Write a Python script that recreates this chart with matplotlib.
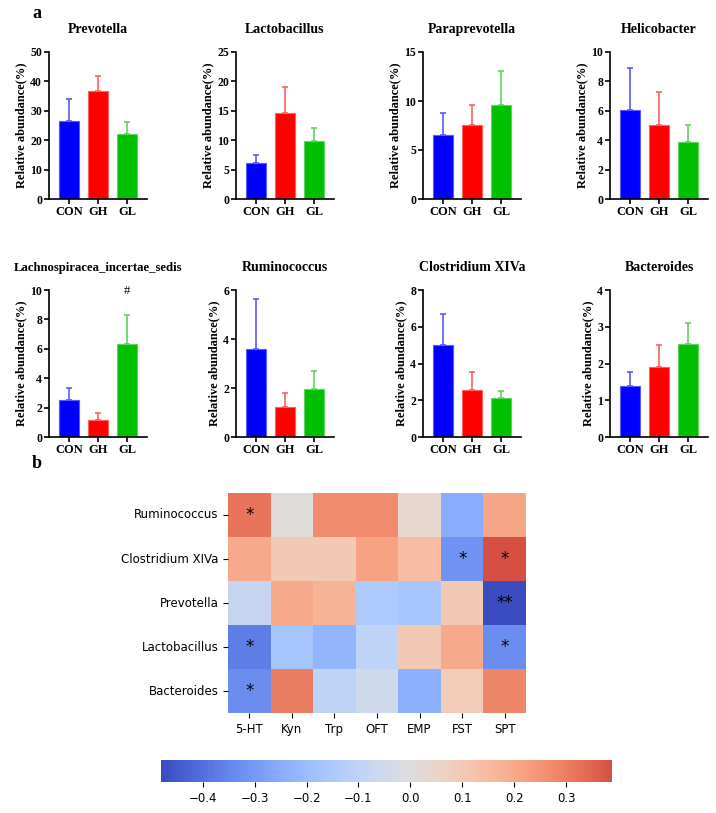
import numpy as np
import matplotlib
matplotlib.use("Agg")
import matplotlib.pyplot as plt
import seaborn as sns

W, H = 716, 813

groups = ["CON", "GH", "GL"]
bar_colors = ["#0000ff", "#ff0000", "#00c000"]
err_colors = ["#5a5aff", "#ff6060", "#5ed35e"]

genera = ["Prevotella", "Lactobacillus", "Paraprevotella", "Helicobacter",
          "Lachnospiracea_incertae_sedis", "Ruminococcus", "Clostridium XIVa", "Bacteroides"]
means = [
    [26.5, 36.8, 22.2],
    [6.2, 14.6, 9.9],
    [6.5, 7.5, 9.6],
    [6.05, 5.05, 3.85],
    [2.5, 1.15, 6.35],
    [3.6, 1.22, 1.97],
    [5.0, 2.55, 2.1],
    [1.38, 1.9, 2.53],
]
upper = [
    [34.0, 42.0, 26.1],
    [7.5, 19.1, 12.0],
    [8.75, 9.6, 13.05],
    [8.9, 7.25, 5.05],
    [3.35, 1.65, 8.3],
    [5.62, 1.8, 2.68],
    [6.68, 3.55, 2.48],
    [1.77, 2.5, 3.1],
]
ymax = [50, 25, 15, 10, 10, 6, 8, 4]
ystep = [10, 5, 5, 2, 2, 2, 2, 1]

heat_rows = ["Ruminococcus", "Clostridium XIVa", "Prevotella", "Lactobacillus", "Bacteroides"]
heat_cols = ["5-HT", "Kyn", "Trp", "OFT", "EMP", "FST", "SPT"]
corr = np.array([
    [0.32, 0.01, 0.27, 0.27, 0.04, -0.25, 0.21],
    [0.20, 0.10, 0.10, 0.22, 0.15, -0.32, 0.388],
    [-0.08, 0.20, 0.17, -0.15, -0.17, 0.10, -0.481],
    [-0.37, -0.17, -0.22, -0.10, 0.10, 0.20, -0.33],
    [-0.33, 0.30, -0.10, -0.05, -0.24, 0.09, 0.28],
])
stars = [
    ["*", "", "", "", "", "", ""],
    ["", "", "", "", "", "*", "*"],
    ["", "", "", "", "", "", "**"],
    ["*", "", "", "", "", "", "*"],
    ["*", "", "", "", "", "", ""],
]

SERIF = "Liberation Serif"

fig = plt.figure(figsize=(W / 100, H / 100), dpi=100)


def px_ax(l, t, w, h):
    return fig.add_axes([l / W, 1 - (t + h) / H, w / W, h / H])


lefts = [49, 236, 423, 610]
tops = [52, 290]

for i, name in enumerate(genera):
    ax = px_ax(lefts[i % 4], tops[i // 4], 98, 147)
    x = np.arange(3)
    m = np.array(means[i])
    e = np.array(upper[i]) - m
    for j in range(3):
        ax.bar(x[j], m[j], width=0.68, color=bar_colors[j],
               edgecolor=err_colors[j], linewidth=0.8, zorder=2)
        ax.errorbar(x[j], m[j], yerr=[[0], [e[j]]], fmt="none",
                    ecolor=err_colors[j], elinewidth=1.2, capsize=2.5,
                    capthick=1.2, zorder=1)
    ax.set_xlim(-0.68, 2.68)
    ax.set_ylim(0, ymax[i])
    ax.set_yticks(np.arange(0, ymax[i] + 0.01, ystep[i]))
    ax.set_xticks(x)
    ax.set_xticklabels(groups, fontfamily=SERIF, fontweight="bold", fontsize=9)
    for lab in ax.get_yticklabels():
        lab.set_fontfamily(SERIF)
        lab.set_fontweight("bold")
        lab.set_fontsize(8.5)
    for s in ["top", "right"]:
        ax.spines[s].set_visible(False)
    for s in ["left", "bottom"]:
        ax.spines[s].set_linewidth(1.2)
    ax.tick_params(width=1.2, length=3.5, pad=1.5)
    ax.set_ylabel("Relative abundance(%)", fontfamily=SERIF, fontweight="bold",
                  fontsize=9, labelpad=2)
    tsize = 9.2 if len(name) > 20 else 10
    ax.set_title(name, fontfamily=SERIF, fontweight="bold", fontsize=tsize, pad=14)
    if name.startswith("Lachno"):
        ax.text(2, 9.5, "#", ha="center", va="bottom", fontfamily=SERIF, fontsize=9)

fig.text(37 / W, 1 - 13 / H, "a", fontfamily=SERIF, fontweight="bold",
         fontsize=13, va="center", ha="center")
fig.text(37 / W, 1 - 463 / H, "b", fontfamily=SERIF, fontweight="bold",
         fontsize=13, va="center", ha="center")

hax = px_ax(228, 493, 298, 220)
cax = px_ax(160.7, 760, 451, 22)
sns.heatmap(corr, ax=hax, cmap="coolwarm", center=0, vmin=-0.481, vmax=0.388,
            annot=np.array(stars), fmt="", annot_kws={"fontsize": 12, "color": "black"},
            xticklabels=heat_cols, yticklabels=heat_rows,
            cbar_ax=cax, cbar_kws={"orientation": "horizontal"})
hax.tick_params(labelsize=8.5, length=3.5)
hax.set_yticklabels(heat_rows, rotation=0)
hax.set_xticklabels(heat_cols, rotation=0)
cax.tick_params(labelsize=8.5, length=3.5)
cax.set_xticks([-0.4, -0.3, -0.2, -0.1, 0.0, 0.1, 0.2, 0.3])

fig.savefig("out.png", dpi=100)
